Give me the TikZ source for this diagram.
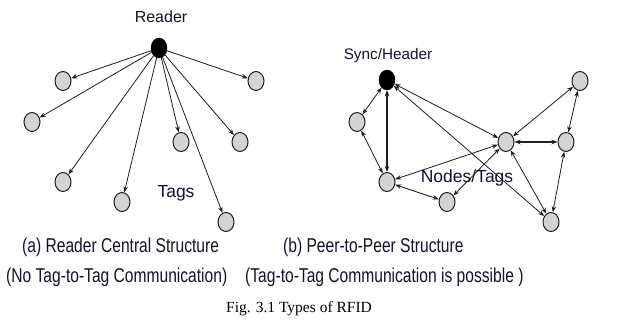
\documentclass[tikz,border=0pt]{standalone}
\usepackage{fontspec}
\setmainfont{Liberation Serif}
\newfontfamily\lblfont{Liberation Sans}
\newfontfamily\capfont{Liberation Sans}[FakeStretch=0.78]
\usetikzlibrary{shapes.geometric,arrows.meta}
\definecolor{txtc}{RGB}{20,20,40}
\definecolor{tagfill}{RGB}{212,212,212}
\definecolor{linec}{RGB}{30,30,30}
\begin{document}
\begin{tikzpicture}[x=1pt,y=-1pt,
  tagnode/.style={ellipse,draw=linec,line width=1pt,fill=tagfill,minimum width=16pt,minimum height=19pt,inner sep=0pt},
  readernode/.style={ellipse,draw=black,fill=black,minimum width=16pt,minimum height=20pt,inner sep=0pt},
  lbl/.style={font=\lblfont\fontsize{16}{18}\selectfont,text=txtc,inner sep=0pt},
  captxt/.style={font=\capfont\fontsize{20}{22}\selectfont,text=txtc,inner sep=0pt,anchor=west},
  conn/.style={draw=linec,line width=0.8pt,-{Stealth[length=6pt,width=4.5pt]}},
  bconn/.style={draw=linec,line width=0.8pt,{Stealth[length=6pt,width=4.5pt]}-{Stealth[length=6pt,width=4.5pt]}},
  thick conn/.style={bconn,line width=1.3pt}
]
\useasboundingbox (0,0) rectangle (634,334);
\fill[white] (0,0) rectangle (634,334);

% ---- (a) reader central structure
\node[readernode] (rd) at (159,48) {};
\node[lbl] (rdl) at (161,17) {Reader};
\node[tagnode] (a1) at (63,81) {};
\node[tagnode] (a2) at (32,122) {};
\node[tagnode] (a3) at (63,182) {};
\node[tagnode] (a4) at (122,202) {};
\node[tagnode] (a5) at (181,142) {};
\node[tagnode] (a6) at (240,142) {};
\node[tagnode] (a7) at (256,81) {};
\node[tagnode] (a8) at (226,222) {};
\node[lbl,font=\lblfont\fontsize{17.5}{19}\selectfont] (tgl) at (176,193) {Tags};
\foreach \t in {a1,a2,a3,a4,a5,a6,a7,a8}{
  \draw[conn] (rd) -- (\t);
}

% ---- (b) peer-to-peer structure
\node[readernode] (hd) at (387,80) {};
\node[lbl,font=\lblfont\fontsize{15.3}{17}\selectfont] (hdl) at (388,56) {Sync/Header};
\node[tagnode] (b1) at (357,122) {};
\node[tagnode] (b2) at (387,182) {};
\node[tagnode] (b3) at (447,202) {};
\node[tagnode] (b4) at (506,142) {};
\node[tagnode] (b5) at (566,142) {};
\node[tagnode] (b6) at (580,81) {};
\node[tagnode] (b7) at (551,222) {};

\draw[bconn] (hd) -- (b1);
\draw[thick conn] (hd) -- (b2);
\draw[bconn] (b1) -- (b2);
\draw[bconn] (hd) -- (b4);
\draw[bconn] (hd) -- (b7);
\draw[bconn] (b2) -- (b4);
\draw[bconn] (b2) -- (b3);
\draw[bconn] (b3) -- (b4);
\draw[thick conn] (b4) -- (b5);
\draw[bconn] (b4) -- (b6);
\draw[bconn] (b4) -- (b7);
\draw[bconn] (b6) -- (b5);
\draw[bconn] (b5) -- (b7);
\node[lbl,font=\lblfont\fontsize{17.5}{19}\selectfont] (ntl) at (467,178) {Nodes/Tags};

% ---- captions
\node[captxt] (ca1) at (22,247) {(a) Reader Central Structure};
\node[captxt] (ca2) at (6,277) {(No Tag-to-Tag Communication)};
\node[captxt] (cb1) at (283,247) {(b) Peer-to-Peer Structure};
\node[captxt] (cb2) at (245,277) {(Tag-to-Tag Communication is possible )};
\node[font=\fontsize{15.5}{18}\selectfont,inner sep=0pt] (fig) at (299,309) {Fig. 3.1 Types of RFID};
\end{tikzpicture}
\end{document}
